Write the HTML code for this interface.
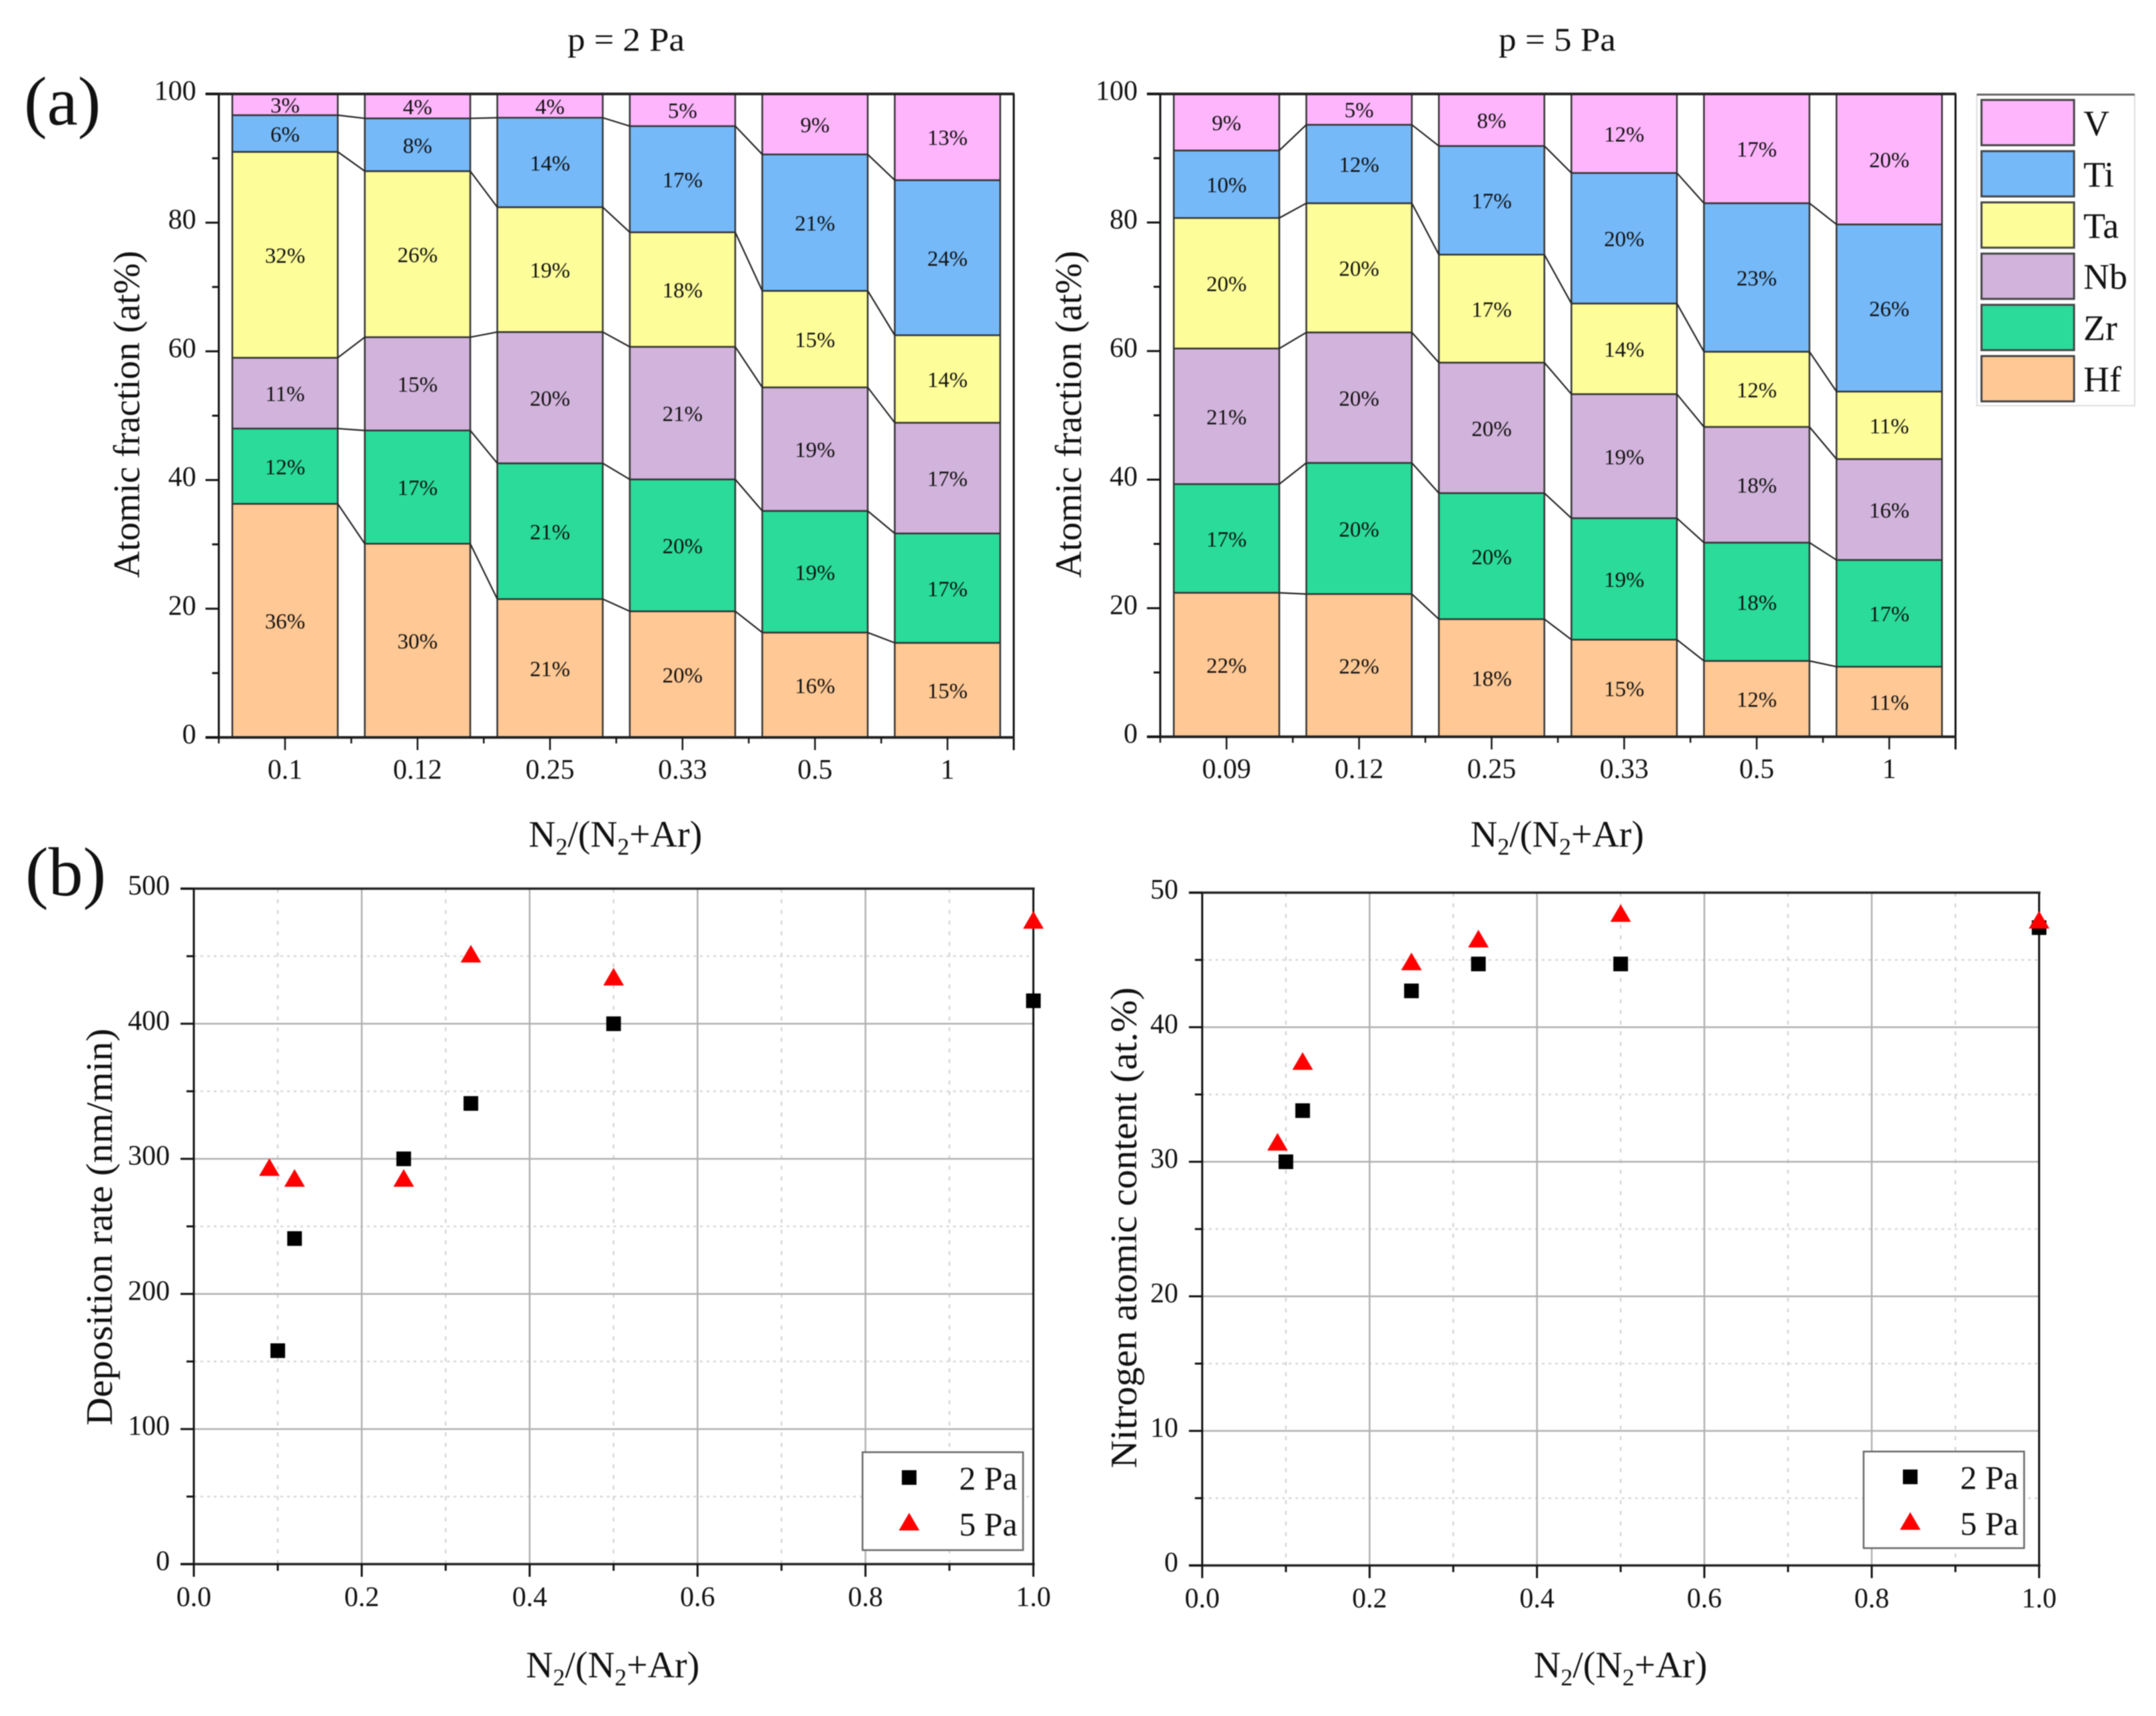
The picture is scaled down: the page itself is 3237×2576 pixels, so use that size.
<!DOCTYPE html>
<html lang="en">
<head>
<meta charset="utf-8">
<title>Atomic fractions, deposition rate and nitrogen content</title>
<style>
html,body{margin:0;padding:0;background:#fff;}
svg{display:block;filter:blur(0.7px);}
text{font-family:"Liberation Serif",serif;fill:#111;}
</style>
</head>
<body>
<svg id="figure" xmlns="http://www.w3.org/2000/svg" width="3237" height="2576" viewBox="0 0 3237 2576">
  <rect x="0" y="0" width="3237" height="2576" fill="#fff"/>
  <text x="36" y="187" font-size="104">(a)</text>
  <text x="38" y="1344" font-size="104">(b)</text>
  <text x="852" y="76" font-size="50" textLength="176" lengthAdjust="spacingAndGlyphs">p = 2 Pa</text>
  <text x="2250" y="76" font-size="50" textLength="176" lengthAdjust="spacingAndGlyphs">p = 5 Pa</text>

  <text transform="translate(209,622) rotate(-90)" text-anchor="middle" font-size="56" textLength="491" lengthAdjust="spacingAndGlyphs">Atomic fraction (at%)</text>
  <text transform="translate(1623,622) rotate(-90)" text-anchor="middle" font-size="56" textLength="491" lengthAdjust="spacingAndGlyphs">Atomic fraction (at%)</text>
  <text transform="translate(168,1842) rotate(-90)" text-anchor="middle" font-size="56" textLength="596" lengthAdjust="spacingAndGlyphs">Deposition rate (nm/min)</text>
  <text transform="translate(1706,1843) rotate(-90)" text-anchor="middle" font-size="56" textLength="722" lengthAdjust="spacingAndGlyphs">Nitrogen atomic content (at.%)</text>

  <text x="924" y="1271" text-anchor="middle" font-size="56">N<tspan font-size="36" dy="12">2</tspan><tspan dy="-12">/(N</tspan><tspan font-size="36" dy="12">2</tspan><tspan dy="-12">+Ar)</tspan></text>
  <text x="2338" y="1271" text-anchor="middle" font-size="56">N<tspan font-size="36" dy="12">2</tspan><tspan dy="-12">/(N</tspan><tspan font-size="36" dy="12">2</tspan><tspan dy="-12">+Ar)</tspan></text>
  <text x="920" y="2518" text-anchor="middle" font-size="56">N<tspan font-size="36" dy="12">2</tspan><tspan dy="-12">/(N</tspan><tspan font-size="36" dy="12">2</tspan><tspan dy="-12">+Ar)</tspan></text>
  <text x="2433" y="2518" text-anchor="middle" font-size="56">N<tspan font-size="36" dy="12">2</tspan><tspan dy="-12">/(N</tspan><tspan font-size="36" dy="12">2</tspan><tspan dy="-12">+Ar)</tspan></text>

  <g id="stack-2pa"></g>
  <g id="stack-5pa"></g>
  <g id="scatter-rate"></g>
  <g id="scatter-nitrogen"></g>

  <g id="element-legend">
    <rect x="2968" y="142" width="237" height="467" fill="#fff" stroke="#ddd" stroke-width="2"/>
    <line x1="2968" y1="142" x2="3205" y2="142" stroke="#666" stroke-width="3"/>
  </g>
</svg>
<script>
const NS = 'http://www.w3.org/2000/svg';

/* Panel (a), p = 2 Pa */
const categories2Pa = ['0.1', '0.12', '0.25', '0.33', '0.5', '1'];
const hf2Pa = [36.3, 30.1, 21.5, 19.6, 16.3, 14.7];
const zr2Pa = [11.7, 17.6, 21.1, 20.5, 18.9, 17.0];
const nb2Pa = [11, 14.5, 20.4, 20.6, 19.2, 17.2];
const ta2Pa = [32, 25.8, 19.4, 17.8, 15, 13.6];
const ti2Pa = [5.7, 8.2, 13.9, 16.5, 21.2, 24.1];
const v2Pa = [3.3, 3.8, 3.7, 5, 9.4, 13.4];
const hf2PaPrinted = [36, 30, 21, 20, 16, 15];
const zr2PaPrinted = [12, 17, 21, 20, 19, 17];
const nb2PaPrinted = [11, 15, 20, 21, 19, 17];
const ta2PaPrinted = [32, 26, 19, 18, 15, 14];
const ti2PaPrinted = [6, 8, 14, 17, 21, 24];
const v2PaPrinted = [3, 4, 4, 5, 9, 13];

/* Panel (a), p = 5 Pa */
const categories5Pa = ['0.09', '0.12', '0.25', '0.33', '0.5', '1'];
const hf5Pa = [22.4, 22.2, 18.3, 15.1, 11.8, 10.9];
const zr5Pa = [16.9, 20.4, 19.6, 18.9, 18.4, 16.6];
const nb5Pa = [21.1, 20.3, 20.3, 19.3, 18, 15.7];
const ta5Pa = [20.3, 20.1, 16.8, 14.1, 11.7, 10.5];
const ti5Pa = [10.5, 12.2, 16.9, 20.3, 23.1, 26];
const v5Pa = [8.8, 4.8, 8.1, 12.3, 17, 20.3];
const hf5PaPrinted = [22, 22, 18, 15, 12, 11];
const zr5PaPrinted = [17, 20, 20, 19, 18, 17];
const nb5PaPrinted = [21, 20, 20, 19, 18, 16];
const ta5PaPrinted = [20, 20, 17, 14, 12, 11];
const ti5PaPrinted = [10, 12, 17, 20, 23, 26];
const v5PaPrinted = [9, 5, 8, 12, 17, 20];

const elementNames = ['Hf', 'Zr', 'Nb', 'Ta', 'Ti', 'V'];
const elementColors = ['#FFC894', '#2ADB9A', '#D1B3DB', '#FDFD99', '#75B9F9', '#FEB5FC'];
const fractionTicks = ['0', '20', '40', '60', '80', '100'];

/* Panel (b), deposition rate */
const rateX2Pa = [0.1, 0.12, 0.25, 0.33, 0.5, 1];
const rateY2Pa = [158, 241, 300, 341, 400, 417];
const rateX5Pa = [0.09, 0.12, 0.25, 0.33, 0.5, 1];
const rateY5Pa = [293, 285, 285, 451, 434, 476];
const rateTicks = ['0', '100', '200', '300', '400', '500'];

/* Panel (b), nitrogen content */
const nitrogenX2Pa = [0.1, 0.12, 0.25, 0.33, 0.5, 1];
const nitrogenY2Pa = [30, 33.8, 42.7, 44.7, 44.7, 47.4];
const nitrogenX5Pa = [0.09, 0.12, 0.25, 0.33, 0.5, 1];
const nitrogenY5Pa = [31.4, 37.4, 44.8, 46.5, 48.4, 47.9];
const nitrogenTicks = ['0', '10', '20', '30', '40', '50'];
const ratioTicks = ['0.0', '0.2', '0.4', '0.6', '0.8', '1.0'];

function make(parent, tag, attrs, content) {
  const node = document.createElementNS(NS, tag);
  for (const key in attrs) node.setAttribute(key, attrs[key]);
  if (content !== undefined) node.textContent = content;
  parent.appendChild(node);
  return node;
}

function drawStacked(host, box, cats, series, printed) {
  const y = v => box.bottom - (v / 100) * (box.bottom - box.top);
  const step = (box.right - box.left) / cats.length;
  const cx = i => box.left + step * (i + 0.5);
  const halfBar = step * 0.398;
  const tops = cats.map(() => 0);
  const levels = [];
  let el;

  series.forEach((values, s) => {
    const level = [];
    values.forEach((value, i) => {
      const from = tops[i];
      const to = from + value;
      tops[i] = to;
      level.push(to);
      el = make(host, 'rect', {
        x: cx(i) - halfBar,
        y: y(to),
        width: halfBar * 2,
        height: y(from) - y(to),
        fill: elementColors[s],
        stroke: '#333',
        'stroke-width': 2.5
      });
      
      
    });
    levels.push(level);
  });

  levels.forEach(level => {
    for (let i = 0; i < level.length - 1; i++) {
      el = make(host, 'line', {
        x1: cx(i) + halfBar,
        y1: y(level[i]),
        x2: cx(i + 1) - halfBar,
        y2: y(level[i + 1]),
        stroke: '#222',
        'stroke-width': 2.2
      });
      
      
    }
  });

  series.forEach((values, s) => {
    let running = cats.map(() => 0);
    for (let k = 0; k < s; k++) running = running.map((r, i) => r + series[k][i]);
    values.forEach((value, i) => {
      el = make(host, 'text', {
        x: cx(i),
        y: y(running[i] + value / 2) + 12,
        'text-anchor': 'middle',
        'font-size': 33
      }, printed[s][i] + '%');
      
      
    });
  });

  /* axes */
  el = make(host, 'line', { x1: box.left, y1: box.top, x2: box.left, y2: box.bottom, stroke: '#111', 'stroke-width': 3 });
  
  
  el = make(host, 'line', { x1: box.right, y1: box.top, x2: box.right, y2: box.bottom + 19, stroke: '#111', 'stroke-width': 3 });
  
  
  el = make(host, 'line', { x1: box.left - 20, y1: box.top, x2: box.right + 1, y2: box.top, stroke: '#222', 'stroke-width': 4 });
  
  
  el = make(host, 'line', { x1: box.left - 20, y1: box.bottom, x2: box.right + 1, y2: box.bottom, stroke: '#222', 'stroke-width': 4 });
  
  

  fractionTicks.forEach(label => {
    const v = Number(label);
    el = make(host, 'line', { x1: box.left - 20, y1: y(v), x2: box.left, y2: y(v), stroke: '#111', 'stroke-width': 3 });
    
    
    el = make(host, 'text', { x: box.left - 34, y: y(v) + 9, 'text-anchor': 'end', 'font-size': 42 }, label);
    
    
    if (v < 100) {
      el = make(host, 'line', { x1: box.left - 10, y1: y(v + 10), x2: box.left, y2: y(v + 10), stroke: '#111', 'stroke-width': 3 });
      
      
    }
  });

  cats.forEach((label, i) => {
    el = make(host, 'line', { x1: cx(i), y1: box.bottom, x2: cx(i), y2: box.bottom + 19, stroke: '#111', 'stroke-width': 2.5 });
    
    
    el = make(host, 'line', { x1: box.left + step * i, y1: box.bottom, x2: box.left + step * i, y2: box.bottom + 9, stroke: '#111', 'stroke-width': 2.5 });
    
    
    el = make(host, 'text', { x: cx(i), y: box.bottom + 62, 'text-anchor': 'middle', 'font-size': 42 }, label);
    
    
  });
}

function drawSquare(host, px, py) {
  const el = make(host, 'rect', { x: px - 11, y: py - 11, width: 22, height: 22, fill: '#000' });
  
  
}

function drawTriangle(host, px, py) {
  const pts = [[px, py - 15], [px + 15.5, py + 11.5], [px - 15.5, py + 11.5]].map(p => p.join(',')).join(' ');
  const el = make(host, 'polygon', { points: pts, fill: '#FF0000' });
  
  
}

function drawScatter(host, box, yTicks, x2, y2, x5, y5, legend) {
  const yMax = Number(yTicks[yTicks.length - 1]);
  const sx = v => box.left + v * (box.right - box.left);
  const sy = v => box.bottom - (v / yMax) * (box.bottom - box.top);
  const yStep = Number(yTicks[1]);
  let el;

  /* grid */
  for (let n = 0; n < yTicks.length - 1; n++) {
    const mid = yStep * (n + 0.5);
    el = make(host, 'line', { x1: box.left, y1: sy(mid), x2: box.right, y2: sy(mid), stroke: '#d6d6d6', 'stroke-width': 2.5, 'stroke-dasharray': '4 6' });
    
    
  }
  ratioTicks.forEach((label, n) => {
    const v = Number(label) + 0.1;
    if (n < ratioTicks.length - 1) {
      el = make(host, 'line', { x1: sx(v), y1: box.top, x2: sx(v), y2: box.bottom, stroke: '#d6d6d6', 'stroke-width': 2.5, 'stroke-dasharray': '6 10' });
      
      
    }
  });
  yTicks.forEach(label => {
    const v = Number(label);
    el = make(host, 'line', { x1: box.left, y1: sy(v), x2: box.right, y2: sy(v), stroke: '#b0b0b0', 'stroke-width': 2.5 });
    
    
  });
  ratioTicks.forEach(label => {
    const v = Number(label);
    el = make(host, 'line', { x1: sx(v), y1: box.top, x2: sx(v), y2: box.bottom, stroke: '#b0b0b0', 'stroke-width': 2.5 });
    
    
  });

  /* axes */
  el = make(host, 'line', { x1: box.left, y1: box.top, x2: box.left, y2: box.bottom + 19, stroke: '#111', 'stroke-width': 3 });
  
  
  el = make(host, 'line', { x1: box.right, y1: box.top, x2: box.right, y2: box.bottom + 19, stroke: '#111', 'stroke-width': 3 });
  
  
  el = make(host, 'line', { x1: box.left - 20, y1: box.top, x2: box.right + 2, y2: box.top, stroke: '#222', 'stroke-width': 3.5 });
  
  
  el = make(host, 'line', { x1: box.left - 20, y1: box.bottom, x2: box.right + 2, y2: box.bottom, stroke: '#222', 'stroke-width': 3.5 });
  
  

  /* ticks */
  yTicks.forEach(label => {
    const v = Number(label);
    el = make(host, 'line', { x1: box.left - 20, y1: sy(v), x2: box.left, y2: sy(v), stroke: '#111', 'stroke-width': 3 });
    
    
    el = make(host, 'text', { x: box.left - 36, y: sy(v) + 9, 'text-anchor': 'end', 'font-size': 42 }, label);
    
    
    if (v < yMax) {
      el = make(host, 'line', { x1: box.left - 11, y1: sy(v + yStep / 2), x2: box.left, y2: sy(v + yStep / 2), stroke: '#111', 'stroke-width': 3 });
      
      
    }
  });
  ratioTicks.forEach((label, n) => {
    const v = Number(label);
    el = make(host, 'line', { x1: sx(v), y1: box.bottom, x2: sx(v), y2: box.bottom + 19, stroke: '#111', 'stroke-width': 3 });
    
    
    el = make(host, 'text', { x: sx(v), y: box.bottom + 63, 'text-anchor': 'middle', 'font-size': 42 }, label);
    
    
    if (n < ratioTicks.length - 1) {
      el = make(host, 'line', { x1: sx(v + 0.1), y1: box.bottom, x2: sx(v + 0.1), y2: box.bottom + 10, stroke: '#111', 'stroke-width': 3 });
      
      
    }
  });

  /* points */
  x2.forEach((v, i) => drawSquare(host, sx(v), sy(y2[i])));
  x5.forEach((v, i) => drawTriangle(host, sx(v), sy(y5[i])));

  /* legend */
  el = make(host, 'rect', { x: legend.x, y: legend.y, width: legend.w, height: legend.h, fill: '#fff', stroke: '#666', 'stroke-width': 2.5 });
  
  
  drawSquare(host, legend.x + 70, legend.y + 38);
  drawTriangle(host, legend.x + 70, legend.y + 106);
  el = make(host, 'text', { x: legend.x + 145, y: legend.y + 56, 'font-size': 50 }, '2 Pa');
  
  
  el = make(host, 'text', { x: legend.x + 145, y: legend.y + 125, 'font-size': 50 }, '5 Pa');
  
  
}

drawStacked(document.getElementById('stack-2pa'),
  { left: 328.5, right: 1522, top: 141, bottom: 1107 },
  categories2Pa,
  [hf2Pa, zr2Pa, nb2Pa, ta2Pa, ti2Pa, v2Pa],
  [hf2PaPrinted, zr2PaPrinted, nb2PaPrinted, ta2PaPrinted, ti2PaPrinted, v2PaPrinted]);

drawStacked(document.getElementById('stack-5pa'),
  { left: 1742, right: 2936, top: 141, bottom: 1106 },
  categories5Pa,
  [hf5Pa, zr5Pa, nb5Pa, ta5Pa, ti5Pa, v5Pa],
  [hf5PaPrinted, zr5PaPrinted, nb5PaPrinted, ta5PaPrinted, ti5PaPrinted, v5PaPrinted]);

drawScatter(document.getElementById('scatter-rate'),
  { left: 291, right: 1551.5, top: 1334, bottom: 2348 },
  rateTicks, rateX2Pa, rateY2Pa, rateX5Pa, rateY5Pa,
  { x: 1295, y: 2180, w: 241, h: 147 });

drawScatter(document.getElementById('scatter-nitrogen'),
  { left: 1805, right: 3061.5, top: 1340, bottom: 2350 },
  nitrogenTicks, nitrogenX2Pa, nitrogenY2Pa, nitrogenX5Pa, nitrogenY5Pa,
  { x: 2798, y: 2179, w: 241, h: 145 });

/* element legend rows, top to bottom */
(function () {
  const host = document.getElementById('element-legend');
  for (let s = elementNames.length - 1; s >= 0; s--) {
    const row = elementNames.length - 1 - s;
    let el = make(host, 'rect', { x: 2975, y: 150 + row * 76.9, width: 139, height: 68, fill: elementColors[s], stroke: '#444', 'stroke-width': 3 });
    
    
    el = make(host, 'text', { x: 3128, y: 203 + row * 76.9, 'font-size': 54 }, elementNames[s]);
    
    
  }
})();
</script>
</body>
</html>
